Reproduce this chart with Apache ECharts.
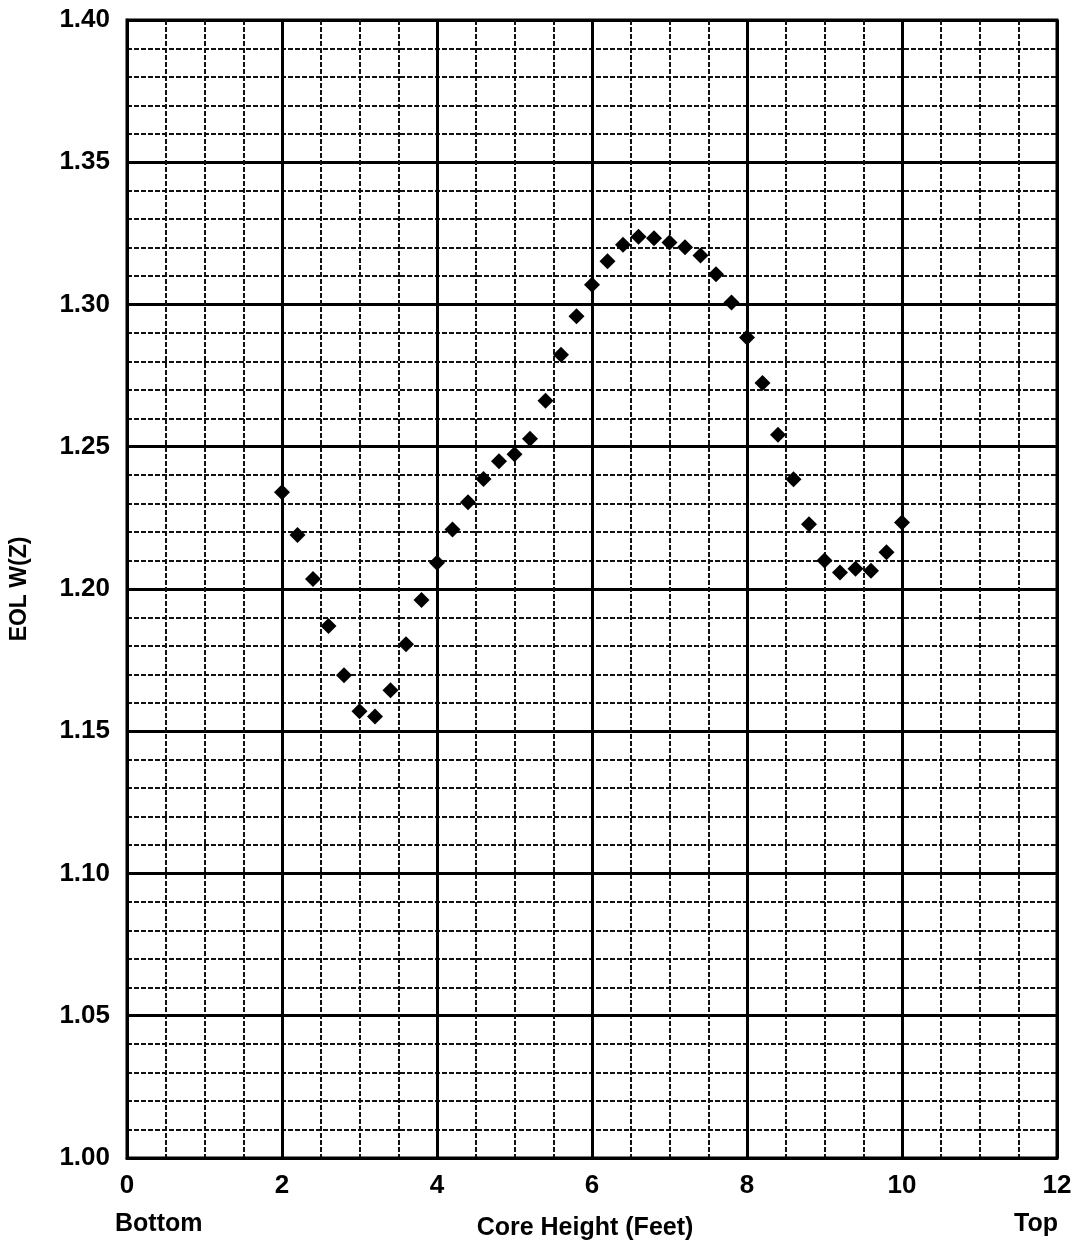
<!DOCTYPE html>
<html>
<head>
<meta charset="utf-8">
<script src="https://cdn.jsdelivr.net/npm/echarts@6/dist/echarts.min.js"></script>
<style>
html,body{margin:0;padding:0;background:#fff;}
#chart{width:1075px;height:1246px;}
</style>
</head>
<body>
<div id="chart"></div>
<script>
// Core height (feet)
const coreHeight = [2.0, 2.2, 2.4, 2.6, 2.8, 3.0, 3.2, 3.4, 3.6, 3.8,
  4.0, 4.2, 4.4, 4.6, 4.8, 5.0, 5.2, 5.4, 5.6, 5.8,
  6.0, 6.2, 6.4, 6.6, 6.8, 7.0, 7.2, 7.4, 7.6, 7.8,
  8.0, 8.2, 8.4, 8.6, 8.8, 9.0, 9.2, 9.4, 9.6, 9.8, 10.0];
// EOL W(Z)
const eolWz = [1.2340, 1.2190, 1.2035, 1.1870, 1.1697, 1.1570, 1.1552, 1.1644, 1.1806, 1.1961,
  1.2092, 1.2209, 1.2305, 1.2387, 1.2449, 1.2474, 1.2528, 1.2662, 1.2823, 1.2959,
  1.3069, 1.3152, 1.3210, 1.3238, 1.3233, 1.3218, 1.3201, 1.3172, 1.3106, 1.3007,
  1.2884, 1.2724, 1.2542, 1.2386, 1.2228, 1.2100, 1.2058, 1.2071, 1.2064, 1.2129, 1.2234];
const xTitle = 'Core Height (Feet)';
const yTitle = 'EOL W(Z)';
const leftLabel = 'Bottom';
const rightLabel = 'Top';

const points = coreHeight.map((x, i) => [x, eolWz[i]]);
const FONT = '"Liberation Sans", Arial, sans-serif';

const chart = echarts.init(document.getElementById('chart'), null, {renderer: 'canvas'});
chart.setOption({
  animation: false,
  backgroundColor: '#fff',
  grid: {left: 127, right: 18, top: 20, bottom: 86, show: true, borderColor: '#000', borderWidth: 3, backgroundColor: 'transparent'},
  xAxis: {
    type: 'value', min: 0, max: 12, interval: 2,
    name: xTitle, nameLocation: 'middle', nameGap: 58,
    nameTextStyle: {fontFamily: FONT, fontSize: 25, fontWeight: 'bold', color: '#000', padding: [0, 14, 0, 0]},
    axisLine: {show: true, lineStyle: {color: '#000', width: 3}},
    axisTick: {show: false},
    axisLabel: {fontFamily: FONT, fontSize: 26, fontWeight: 'bold', color: '#000', margin: 15},
    splitLine: {show: true, lineStyle: {color: '#000', width: 3}},
    minorTick: {show: false, splitNumber: 4},
    minorSplitLine: {show: true, lineStyle: {color: '#111', width: 2, type: [5, 2]}}
  },
  yAxis: {
    type: 'value', min: 1.0, max: 1.4, interval: 0.05,
    name: yTitle, nameLocation: 'middle', nameRotate: 90, nameGap: 96,
    nameTextStyle: {fontFamily: FONT, fontSize: 23, fontWeight: 'bold', color: '#000'},
    axisLine: {show: true, lineStyle: {color: '#000', width: 3}},
    axisTick: {show: false},
    axisLabel: {fontFamily: FONT, fontSize: 26, fontWeight: 'bold', color: '#000', margin: 17,
      formatter: v => v.toFixed(2)},
    splitLine: {show: true, lineStyle: {color: '#000', width: 3}},
    minorTick: {show: false, splitNumber: 5},
    minorSplitLine: {show: true, lineStyle: {color: '#111', width: 2, type: [5, 2]}}
  },
  graphic: [
    {type: 'text', left: 115, top: 1212, style: {text: leftLabel, font: 'bold 25px ' + FONT, fill: '#000'}},
    {type: 'text', right: 17, top: 1212, style: {text: rightLabel, font: 'bold 25px ' + FONT, fill: '#000'}}
  ],
  series: [{
    type: 'scatter',
    data: points,
    symbol: 'diamond',
    symbolSize: [16, 16],
    itemStyle: {color: '#000', opacity: 1},
    z: 5
  }]
});
</script>
</body>
</html>
